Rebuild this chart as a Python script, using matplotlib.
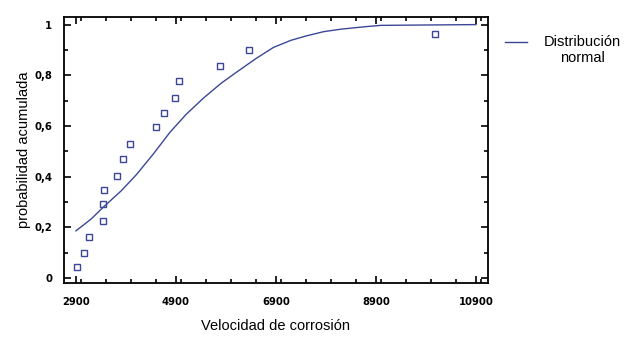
import matplotlib
matplotlib.use("Agg")
import matplotlib.pyplot as plt
from matplotlib import font_manager
from matplotlib.lines import Line2D
from matplotlib.ticker import MultipleLocator, FixedLocator

obs_x = [2930, 3070, 3170, 3440, 3440, 3470, 3720, 3850, 3980,
         4500, 4660, 4890, 4970, 5790, 6370, 10090]
obs_y = [0.045, 0.100, 0.163, 0.225, 0.290, 0.347, 0.404, 0.470, 0.530,
         0.596, 0.653, 0.710, 0.776, 0.837, 0.900, 0.963]

# fitted normal curve
curve_x = [2900, 3200, 3450, 3800, 4110, 4450, 4780, 5100, 5450, 5800,
           6110, 6500, 6850, 7200, 7500, 7850, 8200, 8700, 9000, 10900]
curve_y = [0.186, 0.232, 0.280, 0.343, 0.408, 0.490, 0.575, 0.645, 0.710, 0.768,
           0.812, 0.866, 0.910, 0.938, 0.955, 0.972, 0.982, 0.992, 0.997, 1.0]

x_ticks = [2900, 4900, 6900, 8900, 10900]
y_ticks = [0, 0.2, 0.4, 0.6, 0.8, 1]
y_tick_labels = ["0", "0,2", "0,4", "0,6", "0,8", "1"]
legend_label = "Distribución\nnormal"

blue = "#3b4796"

installed = {f.name for f in font_manager.fontManager.ttflist}
tick_font = "Liberation Sans Narrow" if "Liberation Sans Narrow" in installed else "DejaVu Sans"

fig = plt.figure(figsize=(6.29, 3.40), dpi=100)
ax = fig.add_axes([0.1017, 0.1676, 0.6741, 0.7824])

ax.plot(curve_x, curve_y, color=blue, lw=1.0)
ax.plot(obs_x, obs_y, linestyle="none", marker="s", markersize=5,
        markerfacecolor="none", markeredgecolor=blue, markeredgewidth=1.0)

ax.set_xlim(2660, 11140)
ax.set_ylim(-0.02, 1.03)
ax.xaxis.set_major_locator(FixedLocator(x_ticks))
ax.xaxis.set_minor_locator(MultipleLocator(500))
ax.yaxis.set_major_locator(FixedLocator(y_ticks))
ax.yaxis.set_minor_locator(MultipleLocator(0.1))
ax.set_yticklabels(y_tick_labels)

ax.tick_params(which="both", direction="in", top=True, right=True, width=1.2)
ax.tick_params(which="major", length=5)
ax.tick_params(which="minor", length=3)
ax.tick_params(axis="x", pad=10)
ax.tick_params(axis="y", pad=8.5)
for lab in ax.get_xticklabels() + ax.get_yticklabels():
    lab.set_family(tick_font)
    lab.set_fontsize(8)
    lab.set_fontweight("bold")
    lab.set_fontstretch("condensed")
for s in ax.spines.values():
    s.set_linewidth(1.3)

ax.set_xlabel("Velocidad de corrosión", fontsize=10.5, family="Liberation Sans", labelpad=9)
ax.set_ylabel("probabilidad acumulada", fontsize=10.5, family="Liberation Sans", labelpad=2)

# legend drawn at the right, line level with the first text line
fig.add_artist(Line2D([505 / 629, 527 / 629], [1 - 42 / 340] * 2,
                      transform=fig.transFigure, color=blue, lw=1.0))
fig.text(582 / 629, 1 - 35 / 340, legend_label, ha="center", va="top",
         multialignment="center", fontsize=10.5, family="Liberation Sans",
         linespacing=1.15)

fig.savefig("out.png", dpi=100)
